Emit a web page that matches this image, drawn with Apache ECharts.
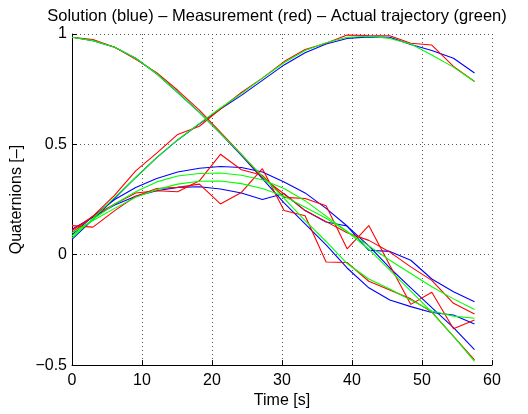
<!DOCTYPE html>
<html><head><meta charset="utf-8">
<script src="https://cdn.jsdelivr.net/npm/echarts@6/dist/echarts.min.js"></script>
<style>html,body{margin:0;padding:0;background:#fff}#c{width:528px;height:414px}</style>
</head><body><div id="c"></div>
<script>
// Sample times [s]
const time = [0, 3.0, 6.1, 9.1, 12.1, 15.1, 18.2, 21.2, 24.2, 27.2, 30.3, 33.3, 36.3, 39.3, 42.4, 45.4, 48.4, 51.4, 54.5, 57.5];

// Solution (blue)
const blueA = [0.985, 0.97, 0.94, 0.89, 0.82, 0.735, 0.645, 0.55, 0.45, 0.345, 0.235, 0.14, 0.045, -0.06, -0.15, -0.205, -0.235, -0.262, -0.273, -0.314];
const blueB = [0.07, 0.16, 0.255, 0.35, 0.44, 0.52, 0.593, 0.66, 0.722, 0.79, 0.86, 0.915, 0.955, 0.98, 0.987, 0.985, 0.952, 0.925, 0.89, 0.823];
const blueC = [0.09, 0.175, 0.25, 0.305, 0.345, 0.375, 0.392, 0.4, 0.395, 0.375, 0.33, 0.28, 0.21, 0.13, 0.04, -0.06, -0.15, -0.24, -0.33, -0.43];
const blueD = [0.115, 0.17, 0.225, 0.265, 0.29, 0.305, 0.308, 0.298, 0.28, 0.25, 0.277, 0.2, 0.148, 0.13, 0.02, 0.015, -0.025, -0.11, -0.168, -0.213];

// Measurement (red)
const redA = [0.985, 0.975, 0.94, 0.885, 0.825, 0.745, 0.655, 0.555, 0.455, 0.35, 0.275, 0.2, 0.15, 0.1, 0.065, 0.012, -0.055, -0.116, -0.22, -0.269];
const redB = [0.1, 0.175, 0.27, 0.38, 0.46, 0.545, 0.582, 0.66, 0.735, 0.8, 0.875, 0.93, 0.958, 0.995, 0.993, 0.992, 0.958, 0.95, 0.853, 0.785];
const redC = [0.11, 0.175, 0.23, 0.28, 0.29, 0.285, 0.335, 0.455, 0.385, 0.36, 0.26, 0.255, 0.222, 0.027, 0.132, -0.048, -0.225, -0.17, -0.335, -0.296];
const redD = [0.132, 0.125, 0.2, 0.265, 0.3, 0.305, 0.32, 0.23, 0.282, 0.39, 0.2, 0.177, -0.033, -0.035, -0.12, -0.16, -0.2, -0.26, -0.37, -0.476];

// Actual trajectory (green)
const greenA = [0.985, 0.97, 0.94, 0.89, 0.82, 0.735, 0.645, 0.55, 0.455, 0.355, 0.255, 0.155, 0.06, -0.04, -0.11, -0.155, -0.205, -0.255, -0.278, -0.288];
const greenB = [0.075, 0.165, 0.26, 0.35, 0.44, 0.52, 0.595, 0.665, 0.73, 0.8, 0.87, 0.925, 0.96, 0.985, 0.99, 0.98, 0.955, 0.905, 0.85, 0.785];
const greenC = [0.085, 0.16, 0.23, 0.285, 0.33, 0.357, 0.368, 0.37, 0.36, 0.34, 0.30, 0.245, 0.175, 0.105, 0.025, -0.07, -0.165, -0.26, -0.37, -0.483];
const greenD = [0.1, 0.155, 0.21, 0.26, 0.295, 0.32, 0.333, 0.334, 0.322, 0.3, 0.265, 0.215, 0.165, 0.105, 0.04, -0.025, -0.085, -0.145, -0.2, -0.248];

const xTicks = [0, 10, 20, 30, 40, 50, 60];
const yTicks = [-0.5, 0, 0.5, 1];

const FONT = 'Liberation Sans, Arial, Helvetica, sans-serif';
const groups = [
  {color: '#0000ff', arrs: [blueA, blueB, blueC, blueD]},
  {color: '#ff0000', arrs: [redA, redB, redC, redD]},
  {color: '#00ff00', arrs: [greenA, greenB, greenC, greenD]}
];
const series = [];
groups.forEach(g => g.arrs.forEach(a => series.push({
  type: 'line', showSymbol: false, symbol: 'none', silent: true,
  data: time.map((t, i) => [t, a[i]]),
  lineStyle: {color: g.color, width: 1.1},
  itemStyle: {color: g.color}
})));

function fmtY(v) {
  if (Math.abs(v) < 1e-9) return '0';
  return (v < 0 ? '\u2212' : '') + String(Math.abs(v));
}

const chart = echarts.init(document.getElementById('c'), null, {renderer: 'canvas'});
chart.setOption({
  animation: false,
  backgroundColor: '#fff',
  title: {
    text: 'Solution (blue) \u2013 Measurement (red) \u2013 Actual trajectory (green)',
    left: 272, top: 3, textAlign: 'center',
    textStyle: {fontFamily: FONT, fontSize: 16.5, fontWeight: 'normal', color: '#000'}
  },
  grid: {left: 72, right: 36, top: 34, bottom: 47},
  xAxis: {
    type: 'value', min: xTicks[0], max: xTicks[xTicks.length - 1], interval: 10,
    name: 'Time [s]', nameLocation: 'middle', nameGap: 12,
    nameTextStyle: {fontFamily: FONT, fontSize: 16, color: '#000', verticalAlign: 'top'},
    axisLine: {show: true, onZero: false, lineStyle: {color: '#000', width: 1}},
    axisTick: {show: true, inside: true, length: 5, lineStyle: {color: '#000'}},
    axisLabel: {fontFamily: FONT, fontSize: 16, color: '#000', margin: 7},
    splitLine: {show: true, lineStyle: {color: '#555', width: 1, type: [1, 3]}}
  },
  yAxis: {
    type: 'value', min: yTicks[0], max: yTicks[yTicks.length - 1], interval: 0.5,
    name: 'Quaternions [\u2013]', nameLocation: 'middle', nameGap: 39,
    nameTextStyle: {fontFamily: FONT, fontSize: 16, color: '#000'},
    axisLine: {show: true, onZero: false, lineStyle: {color: '#000', width: 1}},
    axisTick: {show: true, inside: true, length: 5, lineStyle: {color: '#000'}},
    axisLabel: {fontFamily: FONT, fontSize: 16, color: '#000', margin: 5, formatter: fmtY},
    splitLine: {show: true, lineStyle: {color: '#555', width: 1, type: [1, 3]}}
  },
  series: series
});
</script></body></html>
